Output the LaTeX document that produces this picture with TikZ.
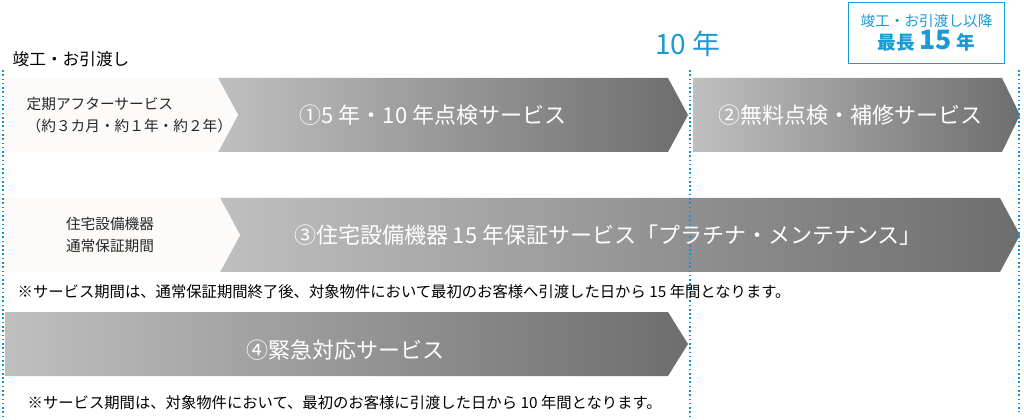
\documentclass[tikz,border=0pt]{standalone}
\usepackage{fontspec}
\setmainfont{Noto Sans CJK JP}
\begin{document}
\begin{tikzpicture}[x=0.75pt,y=-0.75pt,
 grad/.style={left color=black!25,right color=black!57,draw=none},
 light/.style={fill=black!6!brown!3!white,draw=none},
 vline/.style={draw=cyan!80!blue,dotted,line width=1.2pt},
 wt/.style={text=white,font=\fontsize{16.5}{18}\selectfont},
 lt/.style={text=black!85,font=\fontsize{11}{16}\selectfont,align=left,anchor=west}]
\useasboundingbox (0,0) rectangle (1024,420);
\definecolor{bl}{HTML}{1A9AD6}
% arrows row 1
\shade[grad] (218,78) -- (668,78) -- (688,115) -- (668,152) -- (218,152) -- (238,115) -- cycle;
\fill[light] (5,78) -- (218,78) -- (238,115) -- (218,152) -- (5,152) -- cycle;
\shade[grad] (693,78) -- (1002,78) -- (1020,115) -- (1002,152) -- (693,152) -- cycle;
% row 2
\shade[grad] (220,198) -- (1000,198) -- (1020,235) -- (1000,272) -- (220,272) -- (240,235) -- cycle;
\fill[light] (5,198) -- (220,198) -- (240,235) -- (220,272) -- (5,272) -- cycle;
% row 3
\shade[grad] (5,312) -- (668,312) -- (688,344) -- (668,376) -- (5,376) -- cycle;
% dotted lines
\draw[vline] (3,70) -- (3,420);
\draw[vline] (690,70) -- (690,420);
\draw[vline] (1019,70) -- (1019,412);
% texts
\node[anchor=west,font=\fontsize{12.5}{14}\selectfont] (start) at (8,59) {竣工・お引渡し};
\node[text=bl,font=\fontsize{21}{22}\selectfont] (ten) at (688,44) {10 年};
\node[draw=bl,line width=0.8pt,text=bl,align=center,minimum width=117pt,minimum height=46pt,inner sep=1pt] (box) at (926.5,33)
 {{\fontsize{11}{13}\selectfont 竣工・お引渡し以降}\\[1pt]{\fontsize{14}{18}\selectfont\bfseries 最長 {\fontsize{20}{20}\selectfont 15} 年}};
\node[lt] (l1) at (22,115) {定期アフターサービス\\（約３カ月・約１年・約２年）};
\node[lt,align=center,anchor=center] (l2) at (110,235) {住宅設備機器\\通常保証期間};
\node[wt] (a1) at (433,115) {①5 年・10 年点検サービス};
\node[wt] (a2) at (850,115) {②無料点検・補修サービス};
\node[wt] (a3) at (608,235) {③住宅設備機器 15 年保証サービス「プラチナ・メンテナンス」};
\node[wt] (a4) at (345,350) {④緊急対応サービス};
\node[anchor=west,font=\fontsize{11.5}{13}\selectfont] (n1) at (13,292) {※サービス期間は、通常保証期間終了後、対象物件において最初のお客様へ引渡した日から 15 年間となります。};
\node[anchor=west,font=\fontsize{11.5}{13}\selectfont] (n2) at (23,403) {※サービス期間は、対象物件において、最初のお客様に引渡した日から 10 年間となります。};
\end{tikzpicture}
\end{document}
